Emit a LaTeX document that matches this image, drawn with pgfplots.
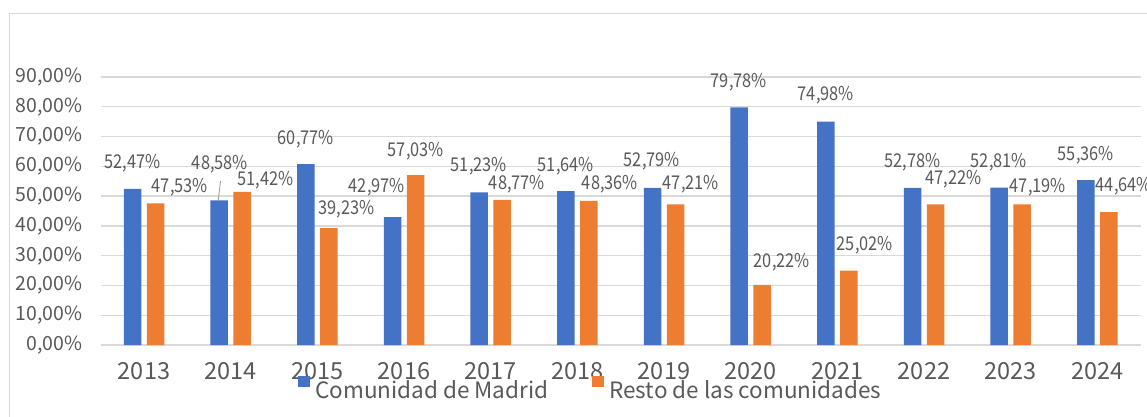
\documentclass[border=0pt]{standalone}
\usepackage{pgfplots}
\pgfplotsset{compat=1.18}
\usepackage{pgfplotstable}
\usepackage{fontspec}
\setmainfont{Noto Sans CJK SC}
\newfontfamily\labfont{Noto Sans CJK SC}[FakeStretch=0.86]
\definecolor{blueC}{HTML}{4472C4}
\definecolor{orangeC}{HTML}{ED7D31}
\definecolor{gridC}{HTML}{D9D9D9}
\definecolor{txtC}{HTML}{595959}
\pgfplotstableread{
x madrid resto
0  52.47 47.53
1  48.58 51.42
2  60.77 39.23
3  42.97 57.03
4  51.23 48.77
5  51.64 48.36
6  52.79 47.21
7  79.78 20.22
8  74.98 25.02
9  52.78 47.22
10 52.81 47.19
11 55.36 44.64
}\datatable
\pgfplotstableread{
x y v
-0.135 60.95 52.47
0.413 53.06 47.53
0.875 60.78 48.58
1.400 55.24 51.42
1.867 69.17 60.77
2.334 45.50 39.23
2.686 52.89 42.97
3.136 64.98 57.03
3.863 59.94 51.23
4.302 53.90 48.77
4.867 59.94 51.64
5.375 53.90 48.36
5.859 61.62 52.79
6.309 53.90 47.21
6.863 88.15 79.78
7.359 27.70 20.22
7.867 83.78 74.98
8.317 33.58 25.02
8.865 61.28 52.78
9.338 55.57 47.22
9.863 61.28 52.81
10.313 52.89 47.19
10.867 63.80 55.36
11.305 53.39 44.64
}\labtable
\begin{document}
\begin{tikzpicture}
\useasboundingbox (0pt,0pt) rectangle (1147pt,416pt);
\draw[gridC, line width=1pt] (9.5pt,-10pt) rectangle (1170pt,402.5pt);
\begin{axis}[
  at={(100.7pt,71pt)}, anchor=south west,
  scale only axis, width=1040pt, height=268pt,
  xmin=-0.5, xmax=11.5, ymin=0, ymax=90,
  clip=false,
  axis line style={draw=none},
  major tick length=0pt,
  ymajorgrids, grid style={gridC, line width=1.3pt},
  ytick={0,10,...,90},
  yticklabels={{0,00\%},{10,00\%},{20,00\%},{30,00\%},{40,00\%},{50,00\%},{60,00\%},{70,00\%},{80,00\%},{90,00\%}},
  xtick={0,...,11},
  xticklabels={2013,2014,2015,2016,2017,2018,2019,2020,2021,2022,2023,2024},
  yticklabel style={font=\fontsize{19.5}{24}\selectfont, text=txtC, anchor=east, inner sep=0pt, xshift=-18pt},
  xticklabel style={font=\fontsize{23.5}{28}\selectfont, text=txtC, anchor=north, inner sep=0pt, yshift=-17pt},
  legend style={at={(0.1897,-0.1604)}, anchor=west, draw=none, fill=none, inner sep=0pt,
    nodes={inner sep=0pt, font=\fontsize{22.5}{27}\selectfont, text=txtC},
    /tikz/every even column/.append style={column sep=44pt}},
  legend columns=2,
]
\addplot[ybar, bar width=17.5pt, bar shift=-11.5pt, fill=blueC, draw=none,
  legend image code/.code={\fill[blueC] (0pt,3pt) rectangle (12pt,14pt); \path (17pt,0pt);}]
  table[x=x, y=madrid] {\datatable};
\addlegendentry{Comunidad de Madrid}
\addplot[ybar, bar width=17.5pt, bar shift=11.5pt, fill=orangeC, draw=none,
  legend image code/.code={\fill[orangeC] (0pt,3pt) rectangle (12pt,14pt); \path (17pt,0pt);}]
  table[x=x, y=resto] {\datatable};
\addlegendentry{Resto de las comunidades}
\addplot[forget plot, only marks, mark=*, mark size=0pt,
  mark options={draw=none, fill=none},
  scatter/use mapped color={draw=none, fill=none},
  point meta=explicit,
  nodes near coords={\pgfmathprintnumber[fixed, fixed zerofill, precision=2, use comma, assume math mode=true]{\pgfplotspointmeta}\%},
  every node near coord/.append style={anchor=center, inner sep=0pt, font=\labfont\fontsize{19}{23}\selectfont, text=txtC}]
  table[x=x, y=y, meta=v] {\labtable};
\addplot[forget plot, no marks, draw=gray!80, line width=0.8pt] coordinates {(0.883,55.07) (0.855,48.35)};
\end{axis}
\end{tikzpicture}
\end{document}
